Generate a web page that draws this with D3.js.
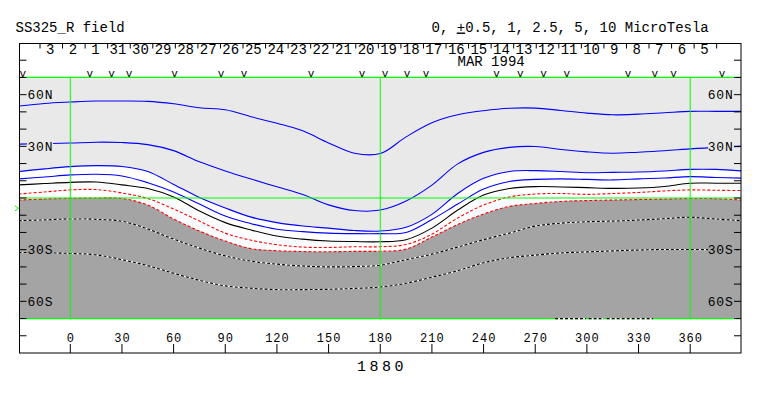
<!DOCTYPE html>
<html>
<head>
<meta charset="utf-8">
<script src="https://cdn.jsdelivr.net/npm/d3@7"></script>
<style>
  body { margin: 0; background: #fff; }
  text { font-family: "Liberation Mono", "DejaVu Sans Mono", monospace; }
</style>
</head>
<body>
<svg></svg>
<script>
const lons = [-30,-15,0,15,30,45,60,75,90,105,120,135,150,165,180,195,210,225,240,255,270,285,300,315,330,345,360,375,390];

// contour latitudes, north to south
const blueTop  = [53.4,54.9,55.7,56.3,56.3,56.1,54.7,52.4,51.2,47.2,43.4,39,32,26,25.8,35.5,43.7,48.3,50.7,52.1,52.2,50.8,49.3,48.3,48.7,49.5,50.3,50.3,50.3];
const blueMid  = [31.3,31.6,31.9,32.4,32.2,31,27.5,21,15.7,11,6.5,2,-4,-7.3,-7,-1.7,7.5,19.8,26.5,29.4,29.9,28.2,26.8,26,26.6,27.4,28.5,29.4,30];
const blueA    = [15.3,16.9,18.2,18.8,18.3,15.4,7.9,0.3,-5.8,-11.1,-14.3,-16.3,-17.5,-18.9,-19.2,-17,-9.5,2.6,11.4,15.4,15.9,15.4,14.7,14.9,15.1,15.7,16.6,16.6,15.7];
const blueB    = [11.1,12.2,13.4,13.8,12.8,8.9,3.5,-3.5,-10.5,-14.9,-18.1,-19.5,-20.4,-20.7,-20.7,-20,-12.5,-3.5,5.2,9.6,10.8,11.1,10.8,10.5,11.1,11.6,12.4,11.9,11.5];
const zeroLine = [7.6,8.4,9.1,9.3,7.6,5.5,0.6,-7.6,-14.3,-18.6,-22.1,-23.9,-25,-25.3,-25.4,-24.2,-17.5,-7,1.7,5.5,6.6,6.4,6,5.6,5.8,6.7,8.6,8.6,8.6];
const redA     = [2.3,3.5,4.7,4.9,2.9,-0.3,-6.4,-13.4,-20.4,-24.5,-27.1,-28.5,-28.7,-28.3,-28.3,-27,-21,-11.6,-4.1,0.6,2.3,2.6,2.1,2.6,3.2,4.1,4.7,4.5,4.3];
const redB     = [-1.2,-0.6,-0.2,0,-0.3,-4.1,-12.2,-19.2,-25,-29.4,-30.6,-31.1,-31.2,-31,-30.9,-29.7,-22.7,-15.4,-9.3,-4.9,-3.2,-2,-1.5,-1.2,-0.9,-0.6,-0.3,-0.4,-1.2];
const negA     = [-13.2,-12.7,-12.2,-12.4,-13.5,-18,-23.9,-29.1,-33.6,-36.7,-38.4,-39.5,-40,-39.8,-39,-35.8,-32.6,-28.5,-24.2,-20.4,-16.3,-14.6,-13.8,-13.4,-12.8,-12,-11.2,-12.2,-13.2];
const negB     = [-31.6,-31.8,-32.2,-33,-35.8,-39.3,-43.7,-47.8,-51,-52.4,-53.2,-53.2,-53,-52.5,-51.7,-49.5,-46,-42.2,-37.6,-34.7,-33.2,-31.9,-31.3,-30.7,-30.2,-29.9,-29.9,-30,-30];
// piece of contour lying on the southern map edge (lon ranges)
const edgeSegs = [[281.5,299.5],[301,310],[311.5,338.5]];

// observation markers along the top of the map
const markLons = [-27.6,11.4,23.9,34.1,60.5,87.5,100.9,139.8,169.4,182.8,195.6,206.6,247.5,261.4,274.8,288.3,323.9,339.4,350.3,378.5];

const lonTicks = [0,30,60,90,120,150,180,210,240,270,300,330,360];
const latTicks = [-80,-70,-60,-50,-40,-30,-20,-10,0,10,20,30,40,50,60,70,80];
const latLabelVals = [60,30,-30,-60];
const latLabels = ["60N","30N","30S","60S"];
const gridLons = [0,180,360];
const gridLats = [70,0,-70];
const dayStart = new Date(Date.UTC(1994,2,5));
const dayEnd = new Date(Date.UTC(1994,3,4));
const b0Angle = -6;

const svg = d3.select('svg')
    .attr('width',763)
    .attr('height',396);

const x = d3.scaleLinear().domain([-29.5,389.5]).range([19.5,741]);
const y = d3.scaleLinear().domain([-90,90]).range([353,43]);
const t = d3.scaleUtc().domain([dayEnd,dayStart]).range([40,716.7]);

const LIGHT = '#e9e9e9', DARK = '#a4a4a4';

svg.append('clipPath').attr('id','map')
    .append('rect')
    .attr('x',x(-29.5)).attr('y',y(70))
    .attr('width',x(389.5)-x(-29.5)).attr('height',y(-70)-y(70));

const map = svg.append('g').attr('clip-path','url(#map)');

const pts = arr => arr.map((v,i) => [lons[i],v]);
const line = d3.line().x(d => x(d[0])).y(d => y(d[1])).curve(d3.curveCatmullRom);
const area = d3.area().x(d => x(d[0])).y0(y(-70)).y1(d => y(d[1])).curve(d3.curveCatmullRom);

////////////////////////////////////////////// fills
map.append('rect')
    .attr('x',x(-29.5)).attr('y',y(70))
    .attr('width',x(389.5)-x(-29.5)).attr('height',y(-70)-y(70))
    .attr('fill',LIGHT);

map.append('path').datum(pts(blueA)).attr('d',area).attr('fill','#fff');
map.append('path').datum(pts(redB)).attr('d',area).attr('fill',DARK);

////////////////////////////////////////////// contours
const contours = [
    {d:blueTop, c:'#0000ff'},
    {d:blueMid, c:'#0000ff'},
    {d:blueA, c:'#0000ff'},
    {d:blueB, c:'#0000ff'},
    {d:zeroLine, c:'#000'},
    {d:redA, c:'#ff0000', dash:'3,2'},
    {d:redB, c:'#ff0000', dash:'3,2'}
];
contours.forEach(k => {
    map.append('path').datum(pts(k.d))
        .attr('d',line)
        .attr('fill','none')
        .attr('stroke',k.c)
        .attr('stroke-width',1.1)
        .attr('stroke-dasharray',k.dash || null);
});

[negA,negB].forEach(arr => {
    map.append('path').datum(pts(arr)).attr('d',line)
        .attr('fill','none').attr('stroke','#fff').attr('stroke-width',1.1);
    map.append('path').datum(pts(arr)).attr('d',line)
        .attr('fill','none').attr('stroke','#000').attr('stroke-width',1.1)
        .attr('stroke-dasharray','3,2');
});

////////////////////////////////////////////// green grid
gridLats.forEach(l => {
    svg.append('line')
        .attr('x1',x(-29.5)).attr('x2',x(389.5))
        .attr('y1',y(l)).attr('y2',y(l))
        .attr('stroke','#00ff00').attr('stroke-width',1.2);
});
gridLons.forEach(l => {
    svg.append('line')
        .attr('x1',x(l)).attr('x2',x(l))
        .attr('y1',y(70)).attr('y2',y(-70))
        .attr('stroke','#00ff00').attr('stroke-width',1);
});

edgeSegs.forEach(s => {
    svg.append('line')
        .attr('x1',x(s[0])).attr('x2',x(s[1]))
        .attr('y1',y(-70)).attr('y2',y(-70))
        .attr('stroke','#fff').attr('stroke-width',1.2);
    svg.append('line')
        .attr('x1',x(s[0])).attr('x2',x(s[1]))
        .attr('y1',y(-70)).attr('y2',y(-70))
        .attr('stroke','#000').attr('stroke-width',1.2)
        .attr('stroke-dasharray','3,2');
});

// B0 marker left of the frame
svg.append('path')
    .attr('d',`M15,${y(b0Angle)-2.5} L18.5,${y(b0Angle)} L15,${y(b0Angle)+2.5}`)
    .attr('fill','none').attr('stroke','#00ff00').attr('stroke-width',1);

////////////////////////////////////////////// lat labels (with masks) and ticks
latLabelVals.forEach((v,i) => {
    const bg = v > 0 ? LIGHT : DARK;
    svg.append('rect').attr('x',27).attr('y',y(v)-6).attr('width',26).attr('height',12).attr('fill',bg);
    svg.append('rect').attr('x',708).attr('y',y(v)-6).attr('width',26).attr('height',12).attr('fill',bg);
    svg.append('text').text(latLabels[i])
        .attr('x',27.5).attr('y',y(v)+4.5)
        .attr('font-family','Liberation Sans').attr('font-size',13)
        .attr('letter-spacing',0.8);
    svg.append('text').text(latLabels[i])
        .attr('x',733.5).attr('y',y(v)+4.5)
        .attr('text-anchor','end')
        .attr('font-family','Liberation Sans').attr('font-size',13)
        .attr('letter-spacing',0.8);
});

latTicks.forEach(v => {
    svg.append('line').attr('x1',19.5).attr('x2',26.5).attr('y1',y(v)).attr('y2',y(v))
        .attr('stroke','#000').attr('stroke-width',1);
    svg.append('line').attr('x1',734).attr('x2',741).attr('y1',y(v)).attr('y2',y(v))
        .attr('stroke','#000').attr('stroke-width',1);
});

////////////////////////////////////////////// frame
svg.append('rect')
    .attr('x',19.5).attr('y',43.5)
    .attr('width',721.5).attr('height',309.5)
    .attr('fill','none').attr('stroke','#000').attr('stroke-width',1);

////////////////////////////////////////////// longitude axis
lonTicks.forEach(v => {
    svg.append('line').attr('x1',x(v)).attr('x2',x(v)).attr('y1',344).attr('y2',353)
        .attr('stroke','#000').attr('stroke-width',1);
    svg.append('text').text(v)
        .attr('x',x(v)+0.5).attr('y',341.5)
        .attr('text-anchor','middle')
        .attr('font-family','Liberation Sans').attr('font-size',12)
        .attr('letter-spacing',1);
});

svg.append('text').text('1880')
    .attr('x',382).attr('y',370.5)
    .attr('text-anchor','middle')
    .attr('font-family','Liberation Sans').attr('font-size',15)
    .attr('letter-spacing',3.5);

////////////////////////////////////////////// date axis
d3.utcDay.range(dayStart, d3.utcDay.offset(dayEnd,1)).forEach(d => {
    svg.append('line').attr('x1',t(d)).attr('x2',t(d)).attr('y1',43).attr('y2',48.5)
        .attr('stroke','#000').attr('stroke-width',1);
});
d3.utcDay.range(dayStart, dayEnd).forEach(d => {
    svg.append('text').text(d3.utcFormat('%-d')(d))
        .attr('x',t(d3.utcHour.offset(d,12)) - 1).attr('y',54)
        .attr('text-anchor','middle')
        .attr('font-size',14);
});

svg.append('text').text('MAR 1994')
    .attr('x',457.5).attr('y',66)
    .attr('font-size',14);

markLons.forEach(v => {
    svg.append('text').text('v')
        .attr('x',x(v)).attr('y',76.5)
        .attr('text-anchor','middle')
        .attr('font-size',11);
});

////////////////////////////////////////////// titles
svg.append('text').text('SS325_R field')
    .attr('x',15.5).attr('y',31.5)
    .attr('font-size',14);

const sub = svg.append('text')
    .attr('x',431.5).attr('y',31.5)
    .attr('font-size',14)
    .attr('xml:space','preserve');
sub.append('tspan').text('0, ');
sub.append('tspan').text('+').attr('text-decoration','underline');
sub.append('tspan').text('0.5, 1, 2.5, 5, 10 MicroTesla');
</script>
</body>
</html>
